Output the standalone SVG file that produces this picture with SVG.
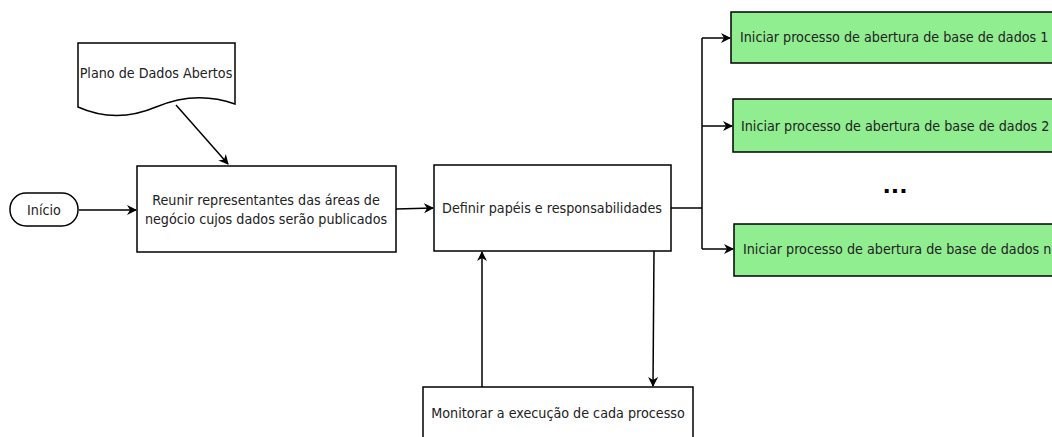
<svg xmlns="http://www.w3.org/2000/svg" width="1052" height="437" viewBox="0 0 1052 437">
<defs>
<style>
.n{fill:#fff;stroke:#000;stroke-width:1.5}
.g{fill:#90EE90;stroke:#000;stroke-width:1.5}
.t{font-family:"DejaVu Sans Condensed","DejaVu Sans",sans-serif;font-size:14.2px;fill:#222;text-anchor:middle;dominant-baseline:central}
.c{fill:none;stroke:#000;stroke-width:1.5}
</style>
<marker id="a" markerWidth="10" markerHeight="10" refX="9" refY="5" orient="auto" markerUnits="userSpaceOnUse">
<path d="M0,0 L10,5 L0,10 L3,5 Z" fill="#000"/>
</marker>
</defs>
<rect width="1052" height="437" fill="#fff"/>
<g id="doc">
<path class="n" d="M78,43 H235 V104 Q196,90 156,107 T78,107 Z"/>
<text class="t" x="156" y="73">Plano de Dados Abertos</text>
</g>
<g id="inicio">
<rect class="n" x="10" y="193" width="68" height="33" rx="16" ry="16"/>
<text class="t" x="44" y="210">Início</text>
</g>
<g id="reunir">
<rect class="n" x="137" y="166" width="259" height="86"/>
<text class="t" x="266" y="200">Reunir representantes das áreas de</text>
<text class="t" x="266" y="219">negócio cujos dados serão publicados</text>
</g>
<g id="definir">
<rect class="n" x="434" y="165" width="237" height="86"/>
<text class="t" x="552" y="208">Definir papéis e responsabilidades</text>
</g>
<g id="monitorar">
<rect class="n" x="423" y="387" width="270" height="60"/>
<text class="t" x="558" y="413">Monitorar a execução de cada processo</text>
</g>
<g id="b1">
<rect class="g" x="731" y="12" width="330" height="51"/>
<text class="t" x="740" y="37" style="text-anchor:start">Iniciar processo de abertura de base de dados 1</text>
</g>
<g id="b2">
<rect class="g" x="733" y="99" width="330" height="53"/>
<text class="t" x="741" y="126" style="text-anchor:start">Iniciar processo de abertura de base de dados 2</text>
</g>
<g id="dots">
<text x="895" y="193" style="font-family:'DejaVu Sans',sans-serif;font-size:22px;font-weight:bold;text-anchor:middle" fill="#000">...</text>
</g>
<g id="bn">
<rect class="g" x="734" y="224" width="330" height="52"/>
<text class="t" x="743" y="249" style="text-anchor:start">Iniciar processo de abertura de base de dados n</text>
</g>
<g id="connectors">
<path class="c" d="M176,105 L228,164" marker-end="url(#a)"/>
<path class="c" d="M79,210 H136" marker-end="url(#a)"/>
<path class="c" d="M396,209 L433,208" marker-end="url(#a)"/>
<path class="c" d="M671,208 H702"/>
<path class="c" d="M702,38 V249"/>
<path class="c" d="M702,38 H730" marker-end="url(#a)"/>
<path class="c" d="M702,126 H732" marker-end="url(#a)"/>
<path class="c" d="M702,249 H733" marker-end="url(#a)"/>
<path class="c" d="M482,387 V252" marker-end="url(#a)"/>
<path class="c" d="M654,251 L653,386" marker-end="url(#a)"/>
</g>
</svg>
